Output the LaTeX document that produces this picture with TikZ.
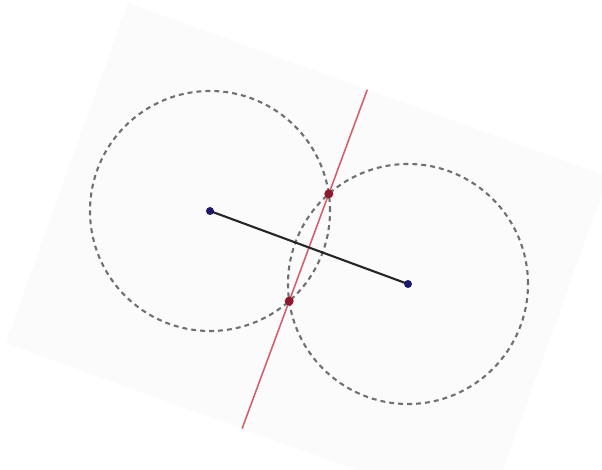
\documentclass[tikz,border=0pt]{standalone}
\usetikzlibrary{calc,intersections}
\definecolor{sheet}{RGB}{251,251,251}
\definecolor{ringgray}{RGB}{112,112,112}
\definecolor{bisred}{RGB}{212,96,108}
\definecolor{ptblue}{RGB}{28,24,108}
\definecolor{ptred}{RGB}{140,26,46}

\begin{document}
\begin{tikzpicture}[x=1cm, y=1cm,
    ring/.style={draw=ringgray, line width=1.2pt, dash pattern=on 2.8pt off 2.3pt},
    bisector/.style={draw=bisred, line width=0.9pt},
    seg/.style={draw=black!85, line width=1.2pt}]
\useasboundingbox (0,0) rectangle (12.04,9.38);
\clip (0,0) rectangle (12.04,9.38);
\fill[white] (0,0) rectangle (12.04,9.38);

% Sheet, turned a little
\coordinate (tl) at (2.56,9.32);
\coordinate (tr) at (12.16,5.84);
\coordinate (br) at (9.72,-0.96);
\coordinate (bl) at (0.12,2.52);
\fill[sheet] (tl) -- (tr) -- (br) -- (bl) -- cycle;

% Centres and the two equal circles
\coordinate (A) at (4.20,5.16);
\coordinate (B) at (8.16,3.70);
\draw[ring, name path=ca] (A) circle (2.40);
\draw[ring, name path=cb] (B) circle (2.40);
\path[name intersections={of=ca and cb, by={P,Q}}];

% Line through the crossing points, cut at the sheet edge
\begin{scope}
    \clip (tl) -- (tr) -- (br) -- (bl) -- cycle;
    \draw[bisector] ($(P)!-4!(Q)$) -- ($(Q)!-4!(P)$);
\end{scope}

% Segment between the centres
\draw[seg] (A) -- (B);

% Points
\foreach \p in {A,B}
    \fill[ptblue] (\p) circle (0.08);
\foreach \p in {P,Q}
    \fill[ptred] (\p) circle (0.09);
\end{tikzpicture}
\end{document}
